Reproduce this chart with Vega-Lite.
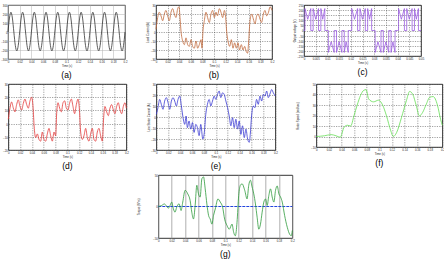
{
  "$schema": "https://vega.github.io/schema/vega-lite/v6.json",
  "background": "white",
  "padding": {"left": 0, "top": 3, "right": 0, "bottom": 0},
  "spacing": 2,
  "center": false,
  "vconcat": [
    {
      "spacing": 17,
      "hconcat": [
        {
          "width": 117, "height": 54,
          "title": {"text": "(a)"},
          "data": {"values": [
            {"t":0,"v":0},{"t":0.0025,"v":155},{"t":0.005,"v":220},{"t":0.0075,"v":155},{"t":0.01,"v":0},{"t":0.0125,"v":-150},{"t":0.015,"v":-210},{"t":0.0175,"v":-150},
            {"t":0.02,"v":0},{"t":0.0225,"v":155},{"t":0.025,"v":220},{"t":0.0275,"v":155},{"t":0.03,"v":0},{"t":0.0325,"v":-150},{"t":0.035,"v":-210},{"t":0.0375,"v":-150},
            {"t":0.04,"v":0},{"t":0.0425,"v":155},{"t":0.045,"v":220},{"t":0.0475,"v":155},{"t":0.05,"v":0},{"t":0.0525,"v":-150},{"t":0.055,"v":-210},{"t":0.0575,"v":-150},
            {"t":0.06,"v":0},{"t":0.0625,"v":155},{"t":0.065,"v":220},{"t":0.0675,"v":155},{"t":0.07,"v":0},{"t":0.0725,"v":-150},{"t":0.075,"v":-210},{"t":0.0775,"v":-150},
            {"t":0.08,"v":0},{"t":0.0825,"v":155},{"t":0.085,"v":220},{"t":0.0875,"v":155},{"t":0.09,"v":0},{"t":0.0925,"v":-150},{"t":0.095,"v":-210},{"t":0.0975,"v":-150},
            {"t":0.1,"v":0},{"t":0.1025,"v":155},{"t":0.105,"v":220},{"t":0.1075,"v":155},{"t":0.11,"v":0},{"t":0.1125,"v":-150},{"t":0.115,"v":-210},{"t":0.1175,"v":-150},
            {"t":0.12,"v":0},{"t":0.1225,"v":155},{"t":0.125,"v":220},{"t":0.1275,"v":155},{"t":0.13,"v":0},{"t":0.1325,"v":-150},{"t":0.135,"v":-210},{"t":0.1375,"v":-150},
            {"t":0.14,"v":0},{"t":0.1425,"v":155},{"t":0.145,"v":220},{"t":0.1475,"v":155},{"t":0.15,"v":0},{"t":0.1525,"v":-150},{"t":0.155,"v":-210},{"t":0.1575,"v":-150},
            {"t":0.16,"v":0},{"t":0.1625,"v":155},{"t":0.165,"v":220},{"t":0.1675,"v":155},{"t":0.17,"v":0},{"t":0.1725,"v":-150},{"t":0.175,"v":-210},{"t":0.1775,"v":-150},
            {"t":0.18,"v":0},{"t":0.1825,"v":155},{"t":0.185,"v":220},{"t":0.1875,"v":155},{"t":0.19,"v":0},{"t":0.1925,"v":-150},{"t":0.195,"v":-210},{"t":0.1975,"v":-150},
            {"t":0.2,"v":0}
          ]},
          "mark": {"type": "line", "interpolate": "monotone", "color": "#333333", "strokeWidth": 0.8},
          "encoding": {
            "x": {"field": "t", "type": "quantitative", "scale": {"domain": [0, 0.2], "nice": false},
                  "axis": {"title": "Time (s)", "values": [0,0.02,0.04,0.06,0.08,0.1,0.12,0.14,0.16,0.18,0.2], "format": "~g", "gridDash": [], "gridColor": "#b0b0b0"}},
            "y": {"field": "v", "type": "quantitative", "scale": {"domain": [-300, 300], "nice": false},
                  "axis": {"title": null, "values": [-300,-200,-100,0,100,200,300], "gridDash": [], "gridColor": "#b0b0b0"}}
          }
        },
        {
          "width": 116, "height": 54,
          "title": {"text": "(b)"},
          "data": {"values": [
            {"t":0,"v":3},{"t":0.0029,"v":16},{"t":0.0057,"v":22},{"t":0.0086,"v":18},{"t":0.0115,"v":12.5},{"t":0.0144,"v":20},{"t":0.0172,"v":24},{"t":0.0201,"v":18},{"t":0.023,"v":12.5},{"t":0.0259,"v":22},{"t":0.0287,"v":26},{"t":0.0316,"v":20},{"t":0.0345,"v":16},{"t":0.0374,"v":26},{"t":0.0397,"v":28},{"t":0.0414,"v":16},{"t":0.0431,"v":1},
            {"t":0.046,"v":-10},{"t":0.0489,"v":-14},{"t":0.0517,"v":-6.5},{"t":0.0546,"v":-14},{"t":0.0575,"v":-16},{"t":0.0603,"v":-8.5},{"t":0.0632,"v":-16},{"t":0.0661,"v":-18},{"t":0.069,"v":-10},{"t":0.0718,"v":-18},{"t":0.0747,"v":-14},{"t":0.0776,"v":-8.5},{"t":0.0793,"v":-18},{"t":0.081,"v":1},
            {"t":0.0833,"v":12.5},{"t":0.0862,"v":22},{"t":0.089,"v":16},{"t":0.0919,"v":10.5},{"t":0.0948,"v":20},{"t":0.0977,"v":24},{"t":0.1006,"v":16},{"t":0.1034,"v":22},{"t":0.106,"v":18},{"t":0.1092,"v":26},{"t":0.112,"v":22},{"t":0.1149,"v":16},{"t":0.118,"v":24},{"t":0.1201,"v":16},{"t":0.1218,"v":1},
            {"t":0.1241,"v":-10},{"t":0.127,"v":-16},{"t":0.1299,"v":-8.5},{"t":0.1328,"v":-18},{"t":0.1356,"v":-12},{"t":0.1385,"v":-18},{"t":0.1414,"v":-12},{"t":0.144,"v":-20},{"t":0.1471,"v":-14},{"t":0.15,"v":-20},{"t":0.1529,"v":-16},{"t":0.1557,"v":-22},{"t":0.158,"v":-23.5},{"t":0.1598,"v":-10},
            {"t":0.1621,"v":12.5},{"t":0.165,"v":20},{"t":0.1678,"v":14.5},{"t":0.1707,"v":9},{"t":0.1736,"v":18},{"t":0.176,"v":20},{"t":0.1793,"v":14.5},{"t":0.182,"v":10.5},{"t":0.1851,"v":20},{"t":0.188,"v":24},{"t":0.1908,"v":18},{"t":0.194,"v":22},{"t":0.1966,"v":28},{"t":0.2,"v":24}
          ]},
          "mark": {"type": "line", "interpolate": "monotone", "color": "#c0693c", "strokeWidth": 0.8},
          "encoding": {
            "x": {"field": "t", "type": "quantitative", "scale": {"domain": [0, 0.2], "nice": false},
                  "axis": {"title": "Time (s)", "values": [0,0.02,0.04,0.06,0.08,0.1,0.12,0.14,0.16,0.18,0.2], "format": "~g"}},
            "y": {"field": "v", "type": "quantitative", "scale": {"domain": [-30, 30], "nice": false},
                  "axis": {"title": "Load Current (A)", "values": [-30,-20,-10,0,10,20,30]}}
          }
        },
        {
          "width": 117, "height": 51,
          "title": {"text": "(c)"},
          "data": {"values": [
            {"t":0,"v":0},{"t":0.0004,"v":0},{"t":0.00041,"v":215},{"t":0.0016,"v":110},{"t":0.0029,"v":215},{"t":0.00291,"v":0},{"t":0.0039,"v":0},{"t":0.00391,"v":215},{"t":0.005,"v":110},{"t":0.0062,"v":215},{"t":0.00621,"v":0},{"t":0.0072,"v":0},{"t":0.00721,"v":215},{"t":0.008,"v":110},{"t":0.0089,"v":215},{"t":0.00891,"v":0},
            {"t":0.01,"v":0},{"t":0.0104,"v":0},{"t":0.01041,"v":-215},{"t":0.0116,"v":-110},{"t":0.0129,"v":-215},{"t":0.01291,"v":0},{"t":0.0139,"v":0},{"t":0.01391,"v":-215},{"t":0.015,"v":-110},{"t":0.0162,"v":-215},{"t":0.01621,"v":0},{"t":0.0172,"v":0},{"t":0.01721,"v":-215},{"t":0.018,"v":-110},{"t":0.0189,"v":-215},{"t":0.01891,"v":0},
            {"t":0.02,"v":0},{"t":0.0204,"v":0},{"t":0.02041,"v":215},{"t":0.0216,"v":110},{"t":0.0229,"v":215},{"t":0.02291,"v":0},{"t":0.0239,"v":0},{"t":0.02391,"v":215},{"t":0.025,"v":110},{"t":0.0262,"v":215},{"t":0.02621,"v":0},{"t":0.0272,"v":0},{"t":0.02721,"v":215},{"t":0.028,"v":110},{"t":0.0289,"v":215},{"t":0.02891,"v":0},
            {"t":0.03,"v":0},{"t":0.0304,"v":0},{"t":0.03041,"v":-215},{"t":0.0316,"v":-110},{"t":0.0329,"v":-215},{"t":0.03291,"v":0},{"t":0.0339,"v":0},{"t":0.03391,"v":-215},{"t":0.035,"v":-110},{"t":0.0362,"v":-215},{"t":0.03621,"v":0},{"t":0.0372,"v":0},{"t":0.03721,"v":-215},{"t":0.038,"v":-110},{"t":0.0389,"v":-215},{"t":0.03891,"v":0},
            {"t":0.04,"v":0},{"t":0.0404,"v":0},{"t":0.04041,"v":215},{"t":0.0416,"v":110},{"t":0.0429,"v":215},{"t":0.04291,"v":0},{"t":0.0439,"v":0},{"t":0.04391,"v":215},{"t":0.045,"v":110},{"t":0.0462,"v":215},{"t":0.04621,"v":0},{"t":0.0472,"v":0},{"t":0.04721,"v":215},{"t":0.048,"v":110},{"t":0.0489,"v":215},{"t":0.04891,"v":0},
            {"t":0.05,"v":0}
          ]},
          "mark": {"type": "line", "color": "#9b5de0", "strokeWidth": 0.8},
          "encoding": {
            "x": {"field": "t", "type": "quantitative", "scale": {"domain": [0, 0.05], "nice": false},
                  "axis": {"title": "Time (s)", "values": [0,0.005,0.01,0.015,0.02,0.025,0.03,0.035,0.04,0.045,0.05], "format": "~g"}},
            "y": {"field": "v", "type": "quantitative", "scale": {"domain": [-250, 250], "nice": false},
                  "axis": {"title": "Output voltage (V)", "values": [-250,-200,-150,-100,-50,0,50,100,150,200,250]}}
          }
        }
      ]
    },
    {
      "spacing": 2,
      "center": true,
      "vconcat": [
        {
          "spacing": 16,
          "hconcat": [
            {
              "width": 118, "height": 66,
              "title": {"text": "(d)", "offset": 4},
              "data": {"values": [
                {"t":0,"v":3.3},{"t":0.0028,"v":11.7},{"t":0.0056,"v":16.4},{"t":0.0085,"v":11.7},{"t":0.0113,"v":8.9},{"t":0.0141,"v":14.4},{"t":0.0169,"v":18},{"t":0.0198,"v":13},{"t":0.0226,"v":10.3},{"t":0.0254,"v":15.3},{"t":0.0282,"v":18.6},{"t":0.0311,"v":14.4},{"t":0.0339,"v":11.7},{"t":0.0367,"v":17.2},{"t":0.0395,"v":20},{"t":0.0418,"v":13},
                {"t":0.044,"v":-3.6},{"t":0.0463,"v":-10.6},{"t":0.0492,"v":-7.8},{"t":0.052,"v":-12},{"t":0.0548,"v":-13.3},{"t":0.0576,"v":-6.4},{"t":0.0605,"v":-12},{"t":0.0633,"v":-13.3},{"t":0.0661,"v":-7.8},{"t":0.0689,"v":-3.6},{"t":0.0718,"v":-9.2},{"t":0.0746,"v":-13.3},{"t":0.0774,"v":-6.4},{"t":0.0802,"v":-9.2},
                {"t":0.0819,"v":7.5},{"t":0.0842,"v":15.8},{"t":0.087,"v":11.7},{"t":0.0898,"v":8.9},{"t":0.0927,"v":15.8},{"t":0.0955,"v":17.2},{"t":0.0983,"v":11.7},{"t":0.1011,"v":10.3},{"t":0.104,"v":15.8},{"t":0.1068,"v":18.6},{"t":0.1096,"v":13},{"t":0.1124,"v":7.5},{"t":0.1153,"v":14.4},{"t":0.1181,"v":18.6},{"t":0.1203,"v":11.7},
                {"t":0.1226,"v":-6.4},{"t":0.1254,"v":-12},{"t":0.1282,"v":-9.2},{"t":0.1311,"v":-3.6},{"t":0.1339,"v":-10.6},{"t":0.1367,"v":-13.3},{"t":0.1395,"v":-7.8},{"t":0.1424,"v":-3.6},{"t":0.1452,"v":-12},{"t":0.148,"v":-13.3},{"t":0.1508,"v":-6.4},{"t":0.1537,"v":-3.6},{"t":0.1565,"v":-9.2},{"t":0.1593,"v":-13.3},
                {"t":0.1616,"v":4.7},{"t":0.1638,"v":13},{"t":0.1667,"v":8.9},{"t":0.1695,"v":6},{"t":0.1723,"v":11.7},{"t":0.1751,"v":14.4},{"t":0.178,"v":10.3},{"t":0.1808,"v":7.5},{"t":0.1836,"v":13},{"t":0.1864,"v":15.8},{"t":0.1893,"v":10.3},{"t":0.1921,"v":7.5},{"t":0.1949,"v":13},{"t":0.1977,"v":15.8},{"t":0.2,"v":11.7}
              ]},
              "mark": {"type": "line", "interpolate": "monotone", "color": "#e23a3a", "strokeWidth": 0.8},
              "encoding": {
                "x": {"field": "t", "type": "quantitative", "scale": {"domain": [0, 0.2], "nice": false},
                      "axis": {"title": "Time (s)", "values": [0,0.02,0.04,0.06,0.08,0.1,0.12,0.14,0.16,0.18,0.2], "format": "~g"}},
                "y": {"field": "v", "type": "quantitative", "scale": {"domain": [-20, 30], "nice": false},
                      "axis": {"title": null, "values": [-20,-10,0,10,20,30]}}
              }
            },
            {
              "width": 119, "height": 66,
              "title": {"text": "(e)", "offset": 4},
              "data": {"values": [
                {"t":0,"v":2.4},{"t":0.0028,"v":8.5},{"t":0.0056,"v":16},{"t":0.0084,"v":11.5},{"t":0.0112,"v":7},{"t":0.014,"v":14.5},{"t":0.0169,"v":17.6},{"t":0.0197,"v":13},{"t":0.0225,"v":7},{"t":0.0253,"v":14.5},{"t":0.0281,"v":17.6},{"t":0.0309,"v":14.5},{"t":0.0337,"v":10},{"t":0.0365,"v":16},{"t":0.0393,"v":19},{"t":0.0421,"v":10},
                {"t":0.0449,"v":-0.6},{"t":0.0478,"v":-6.7},{"t":0.05,"v":0.9},{"t":0.0522,"v":-9.7},{"t":0.055,"v":-3.6},{"t":0.0578,"v":-11},{"t":0.0607,"v":-5},{"t":0.0635,"v":-14},{"t":0.0663,"v":-6.7},{"t":0.0691,"v":-9.7},{"t":0.0719,"v":-17},{"t":0.0747,"v":-6.7},{"t":0.0781,"v":-20},{"t":0.0803,"v":-15.8},
                {"t":0.0831,"v":2.4},{"t":0.0859,"v":11.5},{"t":0.0888,"v":16},{"t":0.0916,"v":10},{"t":0.0944,"v":14.5},{"t":0.0972,"v":19},{"t":0.1,"v":16},{"t":0.1028,"v":20.6},{"t":0.1056,"v":23.6},{"t":0.1084,"v":17.6},{"t":0.1112,"v":22},{"t":0.114,"v":20.6},{"t":0.1169,"v":14.5},{"t":0.1197,"v":8.5},
                {"t":0.1225,"v":0.9},{"t":0.1253,"v":-8},{"t":0.1281,"v":-0.6},{"t":0.1309,"v":-9.7},{"t":0.1337,"v":-2},{"t":0.1365,"v":-11},{"t":0.1393,"v":-3.6},{"t":0.1421,"v":-15.8},{"t":0.1449,"v":-8},{"t":0.1478,"v":-18.8},{"t":0.1506,"v":-11},{"t":0.1534,"v":-20},{"t":0.1562,"v":-23},{"t":0.1579,"v":-15.8},
                {"t":0.1601,"v":0.9},{"t":0.1629,"v":10},{"t":0.1657,"v":8.5},{"t":0.1685,"v":16},{"t":0.1713,"v":11.5},{"t":0.1742,"v":19},{"t":0.177,"v":14.5},{"t":0.1798,"v":20.6},{"t":0.1826,"v":19},{"t":0.1854,"v":23.6},{"t":0.1882,"v":17.6},{"t":0.1916,"v":22},{"t":0.1938,"v":25},{"t":0.1966,"v":22},{"t":0.2,"v":19}
              ]},
              "mark": {"type": "line", "interpolate": "monotone", "color": "#3a3ad2", "strokeWidth": 0.8},
              "encoding": {
                "x": {"field": "t", "type": "quantitative", "scale": {"domain": [0, 0.2], "nice": false},
                      "axis": {"title": "Time (s)", "values": [0,0.02,0.04,0.06,0.08,0.1,0.12,0.14,0.16,0.18,0.2], "format": "~g"}},
                "y": {"field": "v", "type": "quantitative", "scale": {"domain": [-30, 30], "nice": false},
                      "axis": {"title": "Line Stator Current (A)", "values": [-30,-20,-10,0,10,20,30]}}
              }
            },
            {
              "width": 126, "height": 63,
              "title": {"text": "(f)", "offset": 4},
              "data": {"values": [
                {"t":0,"v":0},{"t":0.013,"v":0.7},{"t":0.0234,"v":1.8},{"t":0.0312,"v":0.7},{"t":0.038,"v":-0.7},{"t":0.0442,"v":9},{"t":0.0494,"v":10.7},{"t":0.0545,"v":10},{"t":0.0597,"v":19.6},{"t":0.0649,"v":30},{"t":0.0701,"v":39},{"t":0.0753,"v":44},{"t":0.079,"v":44.6},
                {"t":0.0831,"v":35.7},{"t":0.0909,"v":33},{"t":0.0987,"v":34.6},{"t":0.1052,"v":30},{"t":0.1114,"v":19.6},{"t":0.1182,"v":5.4},{"t":0.1221,"v":0},{"t":0.1273,"v":3.6},{"t":0.1351,"v":17.9},{"t":0.1429,"v":34},{"t":0.1481,"v":42.9},{"t":0.1532,"v":40},
                {"t":0.1584,"v":30},{"t":0.1636,"v":19.6},{"t":0.1688,"v":23},{"t":0.174,"v":30},{"t":0.1803,"v":37.5},{"t":0.1855,"v":38},{"t":0.1922,"v":30},{"t":0.1974,"v":16},{"t":0.2,"v":10.7}
              ]},
              "mark": {"type": "line", "interpolate": "monotone", "color": "#66dd55", "strokeWidth": 0.8},
              "encoding": {
                "x": {"field": "t", "type": "quantitative", "scale": {"domain": [0, 0.2], "nice": false},
                      "axis": {"title": "Time (s)", "values": [0,0.02,0.04,0.06,0.08,0.1,0.12,0.14,0.16,0.18,0.2], "format": "~g"}},
                "y": {"field": "v", "type": "quantitative", "scale": {"domain": [-10, 50], "nice": false},
                      "axis": {"title": "Rotor Speed (rad/sec)", "titlePadding": 12, "values": [-10,0,10,20,30,40,50]}}
              }
            }
          ]
        },
        {
          "width": 134, "height": 63,
          "title": {"text": "(g)"},
          "encoding": {
            "x": {"field": "t", "type": "quantitative", "scale": {"domain": [0, 0.2], "nice": false},
                  "axis": {"title": "Time (s)", "values": [0,0.02,0.04,0.06,0.08,0.1,0.12,0.14,0.16,0.18,0.2], "format": "~g", "gridDash": [], "gridColor": "#9a9a9a", "gridWidth": 0.8}},
            "y": {"field": "v", "type": "quantitative", "scale": {"domain": [-50, 50], "nice": false},
                  "axis": {"title": "Torque (N*m)", "titlePadding": 13, "values": [-50,0,50], "grid": false}}
          },
          "layer": [
            {
              "data": {"values": [{"t":0,"v":0},{"t":0.2,"v":0}]},
              "mark": {"type": "line", "color": "#2244dd", "strokeWidth": 1, "strokeDash": [3, 1]}
            },
            {
              "data": {"values": [
                {"t":0,"v":0},{"t":0.005,"v":1.6},{"t":0.009,"v":4},{"t":0.0125,"v":0.5},{"t":0.015,"v":-2.7},{"t":0.0175,"v":1.6},{"t":0.02,"v":7},{"t":0.0225,"v":-3.7},{"t":0.025,"v":-9},{"t":0.0275,"v":-1},{"t":0.031,"v":4.3},{"t":0.034,"v":-6.4},{"t":0.0365,"v":7},
                {"t":0.04,"v":25.7},{"t":0.044,"v":20},{"t":0.0475,"v":9.6},{"t":0.05,"v":-9},{"t":0.0525,"v":-19.8},{"t":0.055,"v":1.6},{"t":0.0575,"v":33.7},{"t":0.06,"v":20},{"t":0.0625,"v":15},{"t":0.065,"v":44},{"t":0.0675,"v":47},{"t":0.07,"v":28},{"t":0.0725,"v":4},
                {"t":0.075,"v":-14},{"t":0.0775,"v":-20},{"t":0.08,"v":-28},{"t":0.0825,"v":-14},{"t":0.085,"v":-4},{"t":0.089,"v":12},{"t":0.0925,"v":7},{"t":0.096,"v":-1},{"t":0.099,"v":-20},{"t":0.1025,"v":-30},{"t":0.106,"v":-36},{"t":0.11,"v":-28},{"t":0.1125,"v":-41},{"t":0.115,"v":-46.5},
                {"t":0.1175,"v":-25},{"t":0.12,"v":17.6},{"t":0.1225,"v":33.7},{"t":0.125,"v":36},{"t":0.129,"v":25.7},{"t":0.1325,"v":12},{"t":0.135,"v":33.7},{"t":0.1375,"v":41.7},{"t":0.14,"v":31},{"t":0.1425,"v":20},{"t":0.145,"v":4},{"t":0.1475,"v":-17},{"t":0.15,"v":-36},
                {"t":0.1525,"v":-28},{"t":0.155,"v":-9},{"t":0.1575,"v":7},{"t":0.16,"v":12},{"t":0.1625,"v":1.6},{"t":0.165,"v":17.6},{"t":0.1675,"v":28},{"t":0.17,"v":15},{"t":0.1725,"v":7},{"t":0.175,"v":25.7},{"t":0.1775,"v":32.6},{"t":0.18,"v":20},{"t":0.1825,"v":15},
                {"t":0.185,"v":7},{"t":0.1885,"v":-14},{"t":0.1925,"v":-33},{"t":0.196,"v":-44},{"t":0.1985,"v":-46.5},{"t":0.2,"v":-38}
              ]},
              "mark": {"type": "line", "interpolate": "monotone", "color": "#2f9a3c", "strokeWidth": 0.8}
            }
          ]
        }
      ]
    }
  ],
  "config": {
    "font": "Liberation Sans",
    "view": {"stroke": "#000000", "strokeWidth": 0.8},
    "axis": {
      "labelFontSize": 2.8, "titleFontSize": 2.8, "labelPadding": 1, "titlePadding": 1,
      "ticks": false, "domain": false,
      "labelColor": "#222222", "titleColor": "#222222", "titleFontWeight": "normal",
      "labelFlush": false, "labelOverlap": false,
      "gridColor": "#444444", "gridDash": [1.2, 1.2], "gridWidth": 0.5, "gridOpacity": 1
    },
    "title": {"fontSize": 8.5, "fontWeight": "normal", "orient": "bottom", "offset": 0, "color": "#000000", "font": "Liberation Sans"}
  }
}
